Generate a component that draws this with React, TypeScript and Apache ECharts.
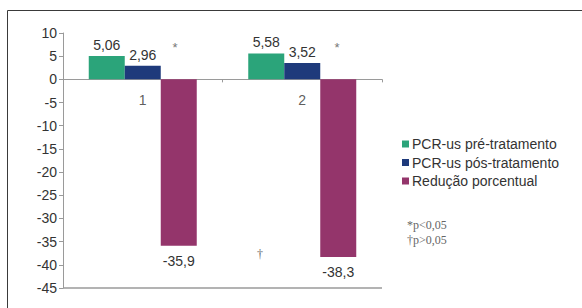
import React, { useEffect, useRef } from "react";
import * as echarts from "echarts";

const categories = ["1", "2"];
const preTreatment = [5.06, 5.58];
const postTreatment = [2.96, 3.52];
const reduction = [-35.9, -38.3];
const seriesNames = ["PCR-us pré-tratamento", "PCR-us pós-tratamento", "Redução porcentual"];
const noteLines = ["*p<0,05", "†p>0,05"];
const categoryLabelLevel = -4.5;

const fmt = (v: number) => String(v).replace(".", ",");

export default function App() {
  const ref = useRef<HTMLDivElement>(null);
  useEffect(() => {
    if (!ref.current) return;
    const chart = echarts.init(ref.current, null, { renderer: "svg" });
    const font = "Liberation Sans, Arial, sans-serif";
    const labelCommon = {
      show: true,
      fontFamily: font,
      fontSize: 14,
      color: "#333",
      formatter: (p: any) => fmt(p.value),
    };
    chart.setOption({
      animation: false,
      backgroundColor: "#fff",
      grid: { left: 63, right: 200, top: 33, bottom: 20, outerBoundsMode: "none", containLabel: false },
      legend: {
        orient: "vertical",
        left: 397,
        top: 132,
        itemWidth: 7,
        itemHeight: 7,
        itemGap: 4.5,
        icon: "rect",
        textStyle: { fontFamily: font, fontSize: 14, color: "#333", padding: [0, 0, 0, -2] },
        data: seriesNames,
      },
      xAxis: {
        type: "category",
        data: categories,
        axisLine: { onZero: true, lineStyle: { color: "#9a9a9a", width: 1 } },
        axisTick: { show: true, length: 3, lineStyle: { color: "#9a9a9a" } },
        axisLabel: { show: false },
      },
      yAxis: {
        type: "value",
        min: -45,
        max: 10,
        interval: 5,
        axisLine: { show: true, lineStyle: { color: "#9a9a9a", width: 1 } },
        axisTick: { show: true, length: 4, lineStyle: { color: "#9a9a9a" } },
        axisLabel: { fontFamily: font, fontSize: 14, color: "#333", margin: 6 },
        splitLine: { show: false },
      },
      series: [
        {
          name: seriesNames[0],
          type: "bar",
          data: preTreatment,
          barWidth: 36,
          barGap: "0%",
          itemStyle: { color: "#2ba47a" },
          label: { ...labelCommon, position: "top", distance: 4 },
        },
        {
          name: seriesNames[1],
          type: "bar",
          data: postTreatment,
          barWidth: 36,
          barGap: "0%",
          itemStyle: { color: "#1e3a7b" },
          label: { ...labelCommon, position: "top", distance: 4 },
        },
        {
          name: seriesNames[2],
          type: "bar",
          data: reduction,
          barWidth: 36,
          barGap: "0%",
          itemStyle: { color: "#94356b" },
          label: { ...labelCommon, position: "bottom", distance: 8 },
          markLine: {
            silent: true,
            symbol: "none",
            label: { show: false },
            lineStyle: { color: "#9a9a9a", type: "solid", width: 1.5 },
            data: [{ yAxis: -45 }],
          },
        },
        {
          name: "categoryLabels",
          type: "scatter",
          symbolSize: 0,
          silent: true,
          itemStyle: { color: "#333" },
          data: categories.map((c) => [c, categoryLabelLevel]),
          label: {
            show: true,
            position: "inside",
            fontFamily: font,
            fontSize: 14,
            color: "#333",
            textBorderWidth: 0,
            formatter: (p: any) => p.value[0],
          },
        },
      ],
      graphic: [
        {
          type: "rect",
          shape: { x: 7.5, y: 10.5, width: 580, height: 310 },
          style: { fill: "none", stroke: "#3a3a3a", lineWidth: 1 },
          silent: true,
        },
        {
          type: "text",
          x: 175,
          y: 47,
          style: { text: "*", fontFamily: font, fontSize: 13, fill: "#777", align: "center", verticalAlign: "middle" },
        },
        {
          type: "text",
          x: 337,
          y: 47,
          style: { text: "*", fontFamily: font, fontSize: 13, fill: "#777", align: "center", verticalAlign: "middle" },
        },
        {
          type: "text",
          x: 260,
          y: 254,
          style: { text: "†", fontFamily: "Liberation Serif, serif", fontSize: 12, fill: "#666", align: "center", verticalAlign: "middle" },
        },
        {
          type: "text",
          x: 407,
          y: 225,
          style: { text: noteLines[0], fontFamily: "Liberation Serif, serif", fontSize: 12, fill: "#666", verticalAlign: "middle" },
        },
        {
          type: "text",
          x: 407,
          y: 240,
          style: { text: noteLines[1], fontFamily: "Liberation Serif, serif", fontSize: 12, fill: "#666", verticalAlign: "middle" },
        },
      ],
    });
    return () => chart.dispose();
  }, []);
  return <div ref={ref} style={{ position: "fixed", left: 0, top: 0, width: 582, height: 308 }} />;
}
